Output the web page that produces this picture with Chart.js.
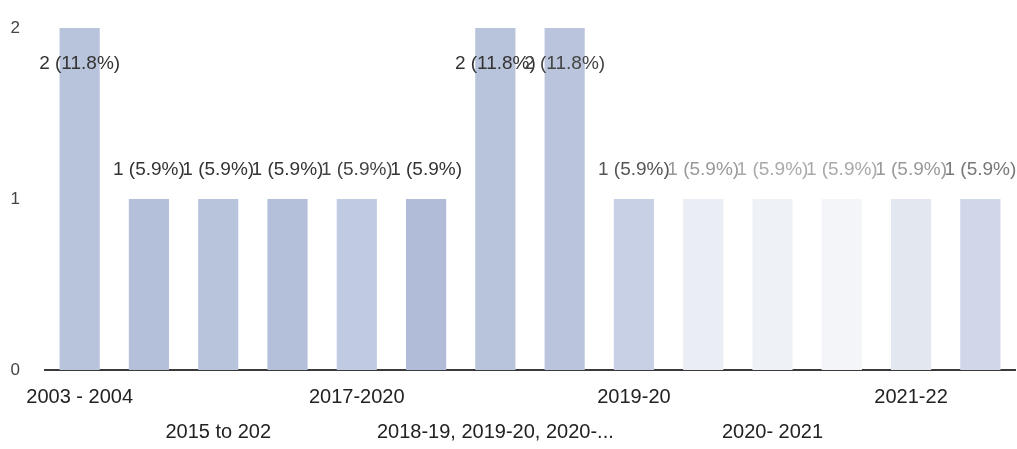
<!DOCTYPE html>
<html>
<head>
<meta charset="utf-8">
<script src="https://cdn.jsdelivr.net/npm/chart.js@4"></script>
<style>
  html, body { margin: 0; padding: 0; background: #fff; }
  #wrap { width: 1017px; height: 449px; }
</style>
</head>
<body>
<div id="wrap"><canvas id="yearChart"></canvas></div>
<script>
// Periods and counts
const periods = ['2003 - 2004', '2010 - 2011', '2015 to 202', '2016-2017', '2017-2020', '2018-2019',
    '2018-19, 2019-20, 2020-...', '2019-2020', '2019-20', '2020-21', '2020- 2021', '2021', '2021-22', '2022-23'];
const counts = [2, 1, 1, 1, 1, 1, 2, 2, 1, 1, 1, 1, 1, 1];
const yTicks = [0, 1, 2];

const total = counts.reduce((a, b) => a + b, 0);

// later bars are washed out
const barColors = ['#b8c3dc', '#b4bfda', '#b8c3dc', '#b4bfda', '#c0cae1', '#b1bcd8', '#b8c3dc',
    '#bac5dd', '#c7d0e4', '#eaedf4', '#eef1f6', '#f3f5f9', '#e2e7f0', '#cfd7e9'];
const labelColors = ['#333', '#333', '#333', '#333', '#444', '#333', '#333',
    '#444', '#555', '#999', '#aaa', '#aaa', '#999', '#777'];

const FONT = '"Liberation Sans", Arial, sans-serif';

// count + share on each bar
const valueLabels = {
    id: 'valueLabels',
    afterDatasetsDraw(chart) {
        const ctx = chart.ctx;
        const meta = chart.getDatasetMeta(0);
        ctx.save();
        ctx.font = '19px ' + FONT;
        ctx.textAlign = 'center';
        ctx.textBaseline = 'middle';
        meta.data.forEach((bar, i) => {
            const v = counts[i];
            const pct = (v / total * 100).toFixed(1);
            const room = bar.y - chart.chartArea.top;
            const y = room > 30 ? bar.y - 29 : bar.y + 36;
            ctx.fillStyle = labelColors[i];
            ctx.fillText(v + ' (' + pct + '%)', bar.x, y);
        });
        ctx.restore();
    }
};

const ctx = document.getElementById('yearChart').getContext('2d');
new Chart(ctx, {
    type: 'bar',
    data: {
        labels: periods,
        datasets: [{
            data: counts,
            backgroundColor: barColors,
            categoryPercentage: 1,
            barPercentage: 0.58
        }]
    },
    options: {
        responsive: true,
        maintainAspectRatio: false,
        animation: false,
        layout: { padding: { top: 28, right: 2, left: 0, bottom: 0 } },
        plugins: {
            legend: { display: false },
            tooltip: { enabled: false }
        },
        scales: {
            x: {
                grid: { display: false, drawTicks: false },
                border: { display: true, color: '#3a3a3a', width: 2 },
                afterFit: (scale) => { scale.height = 79; },
                ticks: {
                    autoSkip: false,
                    maxRotation: 0,
                    minRotation: 0,
                    padding: 10,
                    color: '#222',
                    font: { size: 20, family: FONT, lineHeight: 1.75 },
                    callback: (val, i) => {
                        if (i % 2) return '';
                        return i % 4 === 0 ? periods[i] : ['', periods[i]];
                    }
                }
            },
            y: {
                min: 0,
                max: 2,
                afterFit: (scale) => {
                    scale.width = 45;
                    scale.paddingTop = 0;
                    scale.paddingBottom = 0;
                },
                afterBuildTicks: (scale) => { scale.ticks = yTicks.map(v => ({ value: v })); },
                grid: { display: false, drawTicks: false },
                border: { display: false },
                ticks: {
                    padding: 25,
                    color: '#444',
                    font: { size: 17, family: FONT }
                }
            }
        }
    },
    plugins: [valueLabels]
});
</script>
</body>
</html>
